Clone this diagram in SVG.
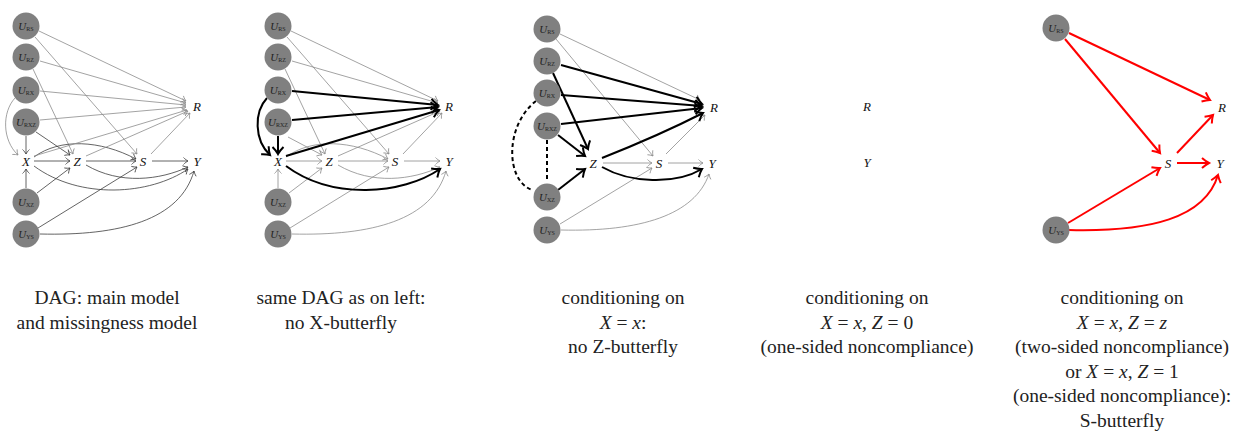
<svg xmlns="http://www.w3.org/2000/svg" width="1236" height="436" viewBox="0 0 1236 436">
<style>
.bg{fill:#fff}
.n circle{fill:#808080}
.ul{font-size:11px;font-style:italic;fill:#222;text-anchor:middle}
.sub{font-style:normal;font-size:6px}
.v{font-style:italic;font-size:13px;fill:#111;text-anchor:middle}
.cap{font-size:19.5px;fill:#222;text-anchor:middle}
.i{font-style:italic}
.e{fill:none}
.d{stroke:#3c3c3c;stroke-width:0.8;marker-end:url(#ad)}
.l{stroke:#8c8c8c;stroke-width:0.8;marker-end:url(#al)}
.b{stroke:#000;stroke-width:2;marker-end:url(#ab)}
.r{stroke:#f00;stroke-width:2;marker-end:url(#ar)}
.ds{stroke:#000;stroke-width:2;stroke-dasharray:4 3;fill:none}
</style>
<defs>
<marker id="ad" viewBox="-10 -10 20 20" refX="0" refY="0" markerWidth="20" markerHeight="20" markerUnits="userSpaceOnUse" orient="auto" overflow="visible"><path d="M-4.5,-3.5 C-3,-1.8 -1,-0.5 0,0 C-1,0.5 -3,1.8 -4.5,3.5" fill="none" stroke="#3c3c3c" stroke-width="0.8"/></marker>
<marker id="al" viewBox="-10 -10 20 20" refX="0" refY="0" markerWidth="20" markerHeight="20" markerUnits="userSpaceOnUse" orient="auto" overflow="visible"><path d="M-4.5,-3.5 C-3,-1.8 -1,-0.5 0,0 C-1,0.5 -3,1.8 -4.5,3.5" fill="none" stroke="#8c8c8c" stroke-width="0.8"/></marker>
<marker id="ab" viewBox="-10 -10 20 20" refX="0" refY="0" markerWidth="20" markerHeight="20" markerUnits="userSpaceOnUse" orient="auto" overflow="visible"><path d="M-7,-5.5 C-4.5,-3 -1.5,-0.8 0,0 C-1.5,0.8 -4.5,3 -7,5.5" fill="none" stroke="#000" stroke-width="2"/></marker>
<marker id="ar" viewBox="-10 -10 20 20" refX="0" refY="0" markerWidth="20" markerHeight="20" markerUnits="userSpaceOnUse" orient="auto" overflow="visible"><path d="M-7,-5 C-4.5,-2.8 -1.5,-0.8 0,0 C-1.5,0.8 -4.5,2.8 -7,5" fill="none" stroke="#f00" stroke-width="2"/></marker>
</defs>
<rect class="bg" x="0" y="0" width="1236" height="436"/>

<!-- Panel 1 -->
<g id="panel1" font-family="Liberation Serif">
<g id="p1-edges" class="e">
<path class="l" d="M39,31 L186,101"/>
<path class="l" d="M35,37 L137,154"/>
<path class="l" d="M40,61 L186,103"/>
<path class="l" d="M33,69 L73,154"/>
<path class="l" d="M40,91 L186,105"/>
<path class="l" d="M15,98 C2,112 2,140 18,155"/>
<path class="l" d="M40,120 L186,107"/>
<path class="d" d="M26,136 L26,154"/>
<path class="d" d="M36,132 L70,155"/>
<path class="d" d="M34,161 L70,161"/>
<path class="d" d="M34,157 C60,138 100,140 136,159"/>
<path class="d" d="M34,166 C80,200 150,195 188,169"/>
<path class="l" d="M34,156 L187,110"/>
<path class="d" d="M86,161 L136,161"/>
<path class="d" d="M86,165 C120,185 160,180 188,167"/>
<path class="l" d="M86,156 L188,111"/>
<path class="d" d="M152,161 L188,161"/>
<path class="l" d="M151,154 L190,113"/>
<path class="d" d="M26,188 L26,169"/>
<path class="d" d="M37,193 L70,168"/>
<path class="d" d="M38,228 L137,167"/>
<path class="d" d="M40,234 C120,236 180,220 194,171"/>
</g>
<g id="p1-URS" class="n"><circle cx="26" cy="26" r="13.5"/><text class="ul" font-family="Liberation Serif" x="26" y="29.5">U<tspan class="sub" dy="1.5">RS</tspan></text></g>
<g id="p1-URZ" class="n"><circle cx="26" cy="57" r="13.5"/><text class="ul" font-family="Liberation Serif" x="26" y="60.5">U<tspan class="sub" dy="1.5">RZ</tspan></text></g>
<g id="p1-URX" class="n"><circle cx="26" cy="90" r="13.5"/><text class="ul" font-family="Liberation Serif" x="26" y="93.5">U<tspan class="sub" dy="1.5">RX</tspan></text></g>
<g id="p1-URXZ" class="n"><circle cx="26" cy="122" r="13.5"/><text class="ul" font-family="Liberation Serif" x="26" y="125.5">U<tspan class="sub" dy="1.5">RXZ</tspan></text></g>
<g id="p1-UXZ" class="n"><circle cx="26" cy="202" r="13.5"/><text class="ul" font-family="Liberation Serif" x="26" y="205.5">U<tspan class="sub" dy="1.5">XZ</tspan></text></g>
<g id="p1-UYS" class="n"><circle cx="26" cy="234" r="13.5"/><text class="ul" font-family="Liberation Serif" x="26" y="237.5">U<tspan class="sub" dy="1.5">YS</tspan></text></g>
<g id="p1-X"><text class="v" font-family="Liberation Serif" x="26" y="165.5">X</text></g>
<g id="p1-Z"><text class="v" font-family="Liberation Serif" x="77" y="165.5">Z</text></g>
<g id="p1-S"><text class="v" font-family="Liberation Serif" x="143" y="165.5">S</text></g>
<g id="p1-Y"><text class="v" font-family="Liberation Serif" x="197" y="165.5">Y</text></g>
<g id="p1-R"><text class="v" font-family="Liberation Serif" x="197" y="110.5">R</text></g>
<text class="cap" font-family="Liberation Serif" x="107" y="304">DAG: main model</text>
<text class="cap" font-family="Liberation Serif" x="107" y="328.5">and missingness model</text>
</g>

<!-- Panel 2 -->
<g id="panel2" transform="translate(252,0)" font-family="Liberation Serif">
<g id="p2-edges" class="e">
<path class="l" d="M39,31 L186,101"/>
<path class="l" d="M35,37 L137,154"/>
<path class="l" d="M40,61 L186,103"/>
<path class="l" d="M33,69 L73,154"/>
<path class="l" d="M36,137 L70,155"/>
<path class="l" d="M34,161 L70,161"/>
<path class="l" d="M34,157 C60,138 100,140 136,159"/>
<path class="l" d="M86,161 L136,161"/>
<path class="l" d="M86,165 C120,185 160,180 188,167"/>
<path class="l" d="M86,156 L188,111"/>
<path class="l" d="M152,161 L188,161"/>
<path class="l" d="M151,154 L190,113"/>
<path class="l" d="M26,188 L26,169"/>
<path class="l" d="M37,193 L70,168"/>
<path class="l" d="M38,228 L137,167"/>
<path class="l" d="M40,234 C120,236 180,220 194,171"/>
<path class="b" d="M40,91 L186,105"/>
<path class="b" d="M15,98 C2,112 2,140 18,155"/>
<path class="b" d="M40,120 L186,107"/>
<path class="b" d="M26,136 L26,154"/>
<path class="b" d="M34,156 L187,110"/>
<path class="b" d="M34,166 C80,200 150,195 188,169"/>
</g>
<g id="p2-URS" class="n"><circle cx="26" cy="26" r="13.5"/><text class="ul" font-family="Liberation Serif" x="26" y="29.5">U<tspan class="sub" dy="1.5">RS</tspan></text></g>
<g id="p2-URZ" class="n"><circle cx="26" cy="57" r="13.5"/><text class="ul" font-family="Liberation Serif" x="26" y="60.5">U<tspan class="sub" dy="1.5">RZ</tspan></text></g>
<g id="p2-URX" class="n"><circle cx="26" cy="90" r="13.5"/><text class="ul" font-family="Liberation Serif" x="26" y="93.5">U<tspan class="sub" dy="1.5">RX</tspan></text></g>
<g id="p2-URXZ" class="n"><circle cx="26" cy="122" r="13.5"/><text class="ul" font-family="Liberation Serif" x="26" y="125.5">U<tspan class="sub" dy="1.5">RXZ</tspan></text></g>
<g id="p2-UXZ" class="n"><circle cx="26" cy="202" r="13.5"/><text class="ul" font-family="Liberation Serif" x="26" y="205.5">U<tspan class="sub" dy="1.5">XZ</tspan></text></g>
<g id="p2-UYS" class="n"><circle cx="26" cy="234" r="13.5"/><text class="ul" font-family="Liberation Serif" x="26" y="237.5">U<tspan class="sub" dy="1.5">YS</tspan></text></g>
<g id="p2-X"><text class="v" font-family="Liberation Serif" x="26" y="165.5">X</text></g>
<g id="p2-Z"><text class="v" font-family="Liberation Serif" x="77" y="165.5">Z</text></g>
<g id="p2-S"><text class="v" font-family="Liberation Serif" x="143" y="165.5">S</text></g>
<g id="p2-Y"><text class="v" font-family="Liberation Serif" x="197" y="165.5">Y</text></g>
<g id="p2-R"><text class="v" font-family="Liberation Serif" x="197" y="110.5">R</text></g>
<text class="cap" font-family="Liberation Serif" x="89" y="304">same DAG as on left:</text>
<text class="cap" font-family="Liberation Serif" x="89" y="328.5">no X-butterfly</text>
</g>

<!-- Panel 3 -->
<g id="panel3" font-family="Liberation Serif">
<g id="p3-edges" class="e">
<path class="ds" d="M536,101 C505,125 505,180 532,190"/>
<path class="ds" d="M547,140 L547,182"/>
<path class="l" d="M560,34 L700,100"/>
<path class="l" d="M556,39 L653,156"/>
<path class="l" d="M603,163 L652,163"/>
<path class="l" d="M668,163 L703,163"/>
<path class="l" d="M666,154 L705,115"/>
<path class="l" d="M560,224 L652,168"/>
<path class="l" d="M561,230 C640,232 695,215 709,174"/>
<path class="b" d="M561,65 L702,104"/>
<path class="b" d="M553,73 L588,149"/>
<path class="b" d="M561,95 L702,106"/>
<path class="b" d="M561,124 L702,108"/>
<path class="b" d="M558,135 L585,156"/>
<path class="b" d="M558,190 L585,169"/>
<path class="b" d="M602,158 Q660,135 703,113"/>
<path class="b" d="M602,167 C630,183 675,185 702,169"/>
</g>
<g id="p3-URS" class="n"><circle cx="547" cy="29" r="13.5"/><text class="ul" font-family="Liberation Serif" x="547" y="32.5">U<tspan class="sub" dy="1.5">RS</tspan></text></g>
<g id="p3-URZ" class="n"><circle cx="547" cy="61" r="13.5"/><text class="ul" font-family="Liberation Serif" x="547" y="64.5">U<tspan class="sub" dy="1.5">RZ</tspan></text></g>
<g id="p3-URX" class="n"><circle cx="547" cy="93" r="13.5"/><text class="ul" font-family="Liberation Serif" x="547" y="96.5">U<tspan class="sub" dy="1.5">RX</tspan></text></g>
<g id="p3-URXZ" class="n"><circle cx="547" cy="126" r="13.5"/><text class="ul" font-family="Liberation Serif" x="547" y="129.5">U<tspan class="sub" dy="1.5">RXZ</tspan></text></g>
<g id="p3-UXZ" class="n"><circle cx="547" cy="197" r="13.5"/><text class="ul" font-family="Liberation Serif" x="547" y="200.5">U<tspan class="sub" dy="1.5">XZ</tspan></text></g>
<g id="p3-UYS" class="n"><circle cx="547" cy="230" r="13.5"/><text class="ul" font-family="Liberation Serif" x="547" y="233.5">U<tspan class="sub" dy="1.5">YS</tspan></text></g>
<g id="p3-Z"><text class="v" font-family="Liberation Serif" x="593" y="167.5">Z</text></g>
<g id="p3-S"><text class="v" font-family="Liberation Serif" x="659" y="167.5">S</text></g>
<g id="p3-Y"><text class="v" font-family="Liberation Serif" x="712" y="167.5">Y</text></g>
<g id="p3-R"><text class="v" font-family="Liberation Serif" x="714" y="111.5">R</text></g>
<text class="cap" font-family="Liberation Serif" x="623" y="304">conditioning on</text>
<text class="cap" font-family="Liberation Serif" x="623" y="328.5"><tspan class="i">X</tspan> = <tspan class="i">x</tspan>:</text>
<text class="cap" font-family="Liberation Serif" x="623" y="353">no Z-butterfly</text>
</g>

<!-- Panel 4 -->
<g id="panel4" font-family="Liberation Serif">
<g id="p4-R"><text class="v" font-family="Liberation Serif" x="867" y="110.5">R</text></g>
<g id="p4-Y"><text class="v" font-family="Liberation Serif" x="867" y="166.5">Y</text></g>
<text class="cap" font-family="Liberation Serif" x="867" y="304">conditioning on</text>
<text class="cap" font-family="Liberation Serif" x="867" y="328.5"><tspan class="i">X</tspan> = <tspan class="i">x</tspan>, <tspan class="i">Z</tspan> = 0</text>
<text class="cap" font-family="Liberation Serif" x="867" y="353">(one-sided noncompliance)</text>
</g>

<!-- Panel 5 -->
<g id="panel5" font-family="Liberation Serif">
<g id="p5-edges" class="e">
<path class="r" d="M1069,33 L1210,100"/>
<path class="r" d="M1065,39 L1160,153"/>
<path class="r" d="M1177,153 L1213,115"/>
<path class="r" d="M1177,163 L1209,163"/>
<path class="r" d="M1068,223 L1160,168"/>
<path class="r" d="M1069,230 C1150,232 1205,218 1218,175"/>
</g>
<g id="p5-URS" class="n"><circle cx="1056" cy="28" r="13.5"/><text class="ul" font-family="Liberation Serif" x="1056" y="31.5">U<tspan class="sub" dy="1.5">RS</tspan></text></g>
<g id="p5-UYS" class="n"><circle cx="1056" cy="230" r="13.5"/><text class="ul" font-family="Liberation Serif" x="1056" y="233.5">U<tspan class="sub" dy="1.5">YS</tspan></text></g>
<g id="p5-S"><text class="v" font-family="Liberation Serif" x="1168" y="167.5">S</text></g>
<g id="p5-Y"><text class="v" font-family="Liberation Serif" x="1220" y="167.5">Y</text></g>
<g id="p5-R"><text class="v" font-family="Liberation Serif" x="1222" y="111.5">R</text></g>
<text class="cap" font-family="Liberation Serif" x="1122" y="304">conditioning on</text>
<text class="cap" font-family="Liberation Serif" x="1122" y="328.5"><tspan class="i">X</tspan> = <tspan class="i">x</tspan>, <tspan class="i">Z</tspan> = <tspan class="i">z</tspan></text>
<text class="cap" font-family="Liberation Serif" x="1122" y="353">(two-sided noncompliance)</text>
<text class="cap" font-family="Liberation Serif" x="1122" y="377.5">or <tspan class="i">X</tspan> = <tspan class="i">x</tspan>, <tspan class="i">Z</tspan> = 1</text>
<text class="cap" font-family="Liberation Serif" x="1122" y="402">(one-sided noncompliance):</text>
<text class="cap" font-family="Liberation Serif" x="1122" y="426.5">S-butterfly</text>
</g>
</svg>
